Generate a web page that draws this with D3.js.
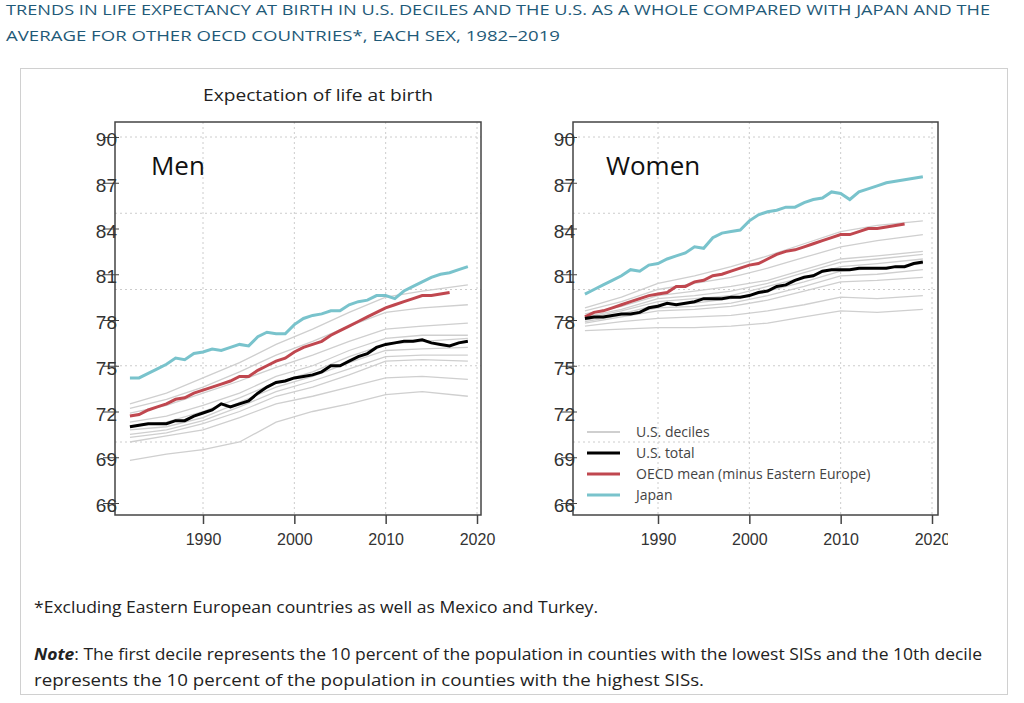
<!DOCTYPE html>
<html><head><meta charset="utf-8">
<script src="https://cdn.jsdelivr.net/npm/d3@7"></script>
<style>body{margin:0;background:#fff;font-family:"Open Sans","Liberation Sans",sans-serif}</style>
</head><body><svg id="c" width="1024" height="703"></svg>
<script>
// annual series 1982..2019
var years = d3.range(1982, 2020);
var oecdYears = d3.range(1982, 2018);
var decileYears = [1982,1986,1990,1994,1998,2002,2006,2010,2014,2019];
var yTicks = [66,69,72,75,78,81,84,87,90];
var yGrid = [70,75,80,85,90];
var xTicks = [1990,2000,2010,2020];

var menJapan = [74.2,74.2,74.5,74.8,75.1,75.5,75.4,75.8,75.9,76.1,76.0,76.2,76.4,76.3,76.9,77.2,77.1,77.1,77.7,78.1,78.3,78.4,78.6,78.6,79.0,79.2,79.3,79.6,79.6,79.4,79.9,80.2,80.5,80.8,81.0,81.1,81.3,81.5];
var menOecd = [71.7,71.8,72.1,72.3,72.5,72.8,72.9,73.2,73.4,73.6,73.8,74.0,74.3,74.3,74.7,75.0,75.3,75.5,75.9,76.2,76.4,76.6,77.0,77.3,77.6,77.9,78.2,78.5,78.8,79.0,79.2,79.4,79.6,79.6,79.7,79.8];
var menUs = [71.0,71.1,71.2,71.2,71.2,71.4,71.4,71.7,71.9,72.1,72.5,72.3,72.5,72.7,73.2,73.6,73.9,74.0,74.2,74.3,74.4,74.6,75.0,75.0,75.3,75.6,75.8,76.2,76.4,76.5,76.6,76.6,76.7,76.5,76.4,76.3,76.5,76.6];
var menDeciles = [
 [68.8,69.2,69.5,70.0,71.3,72.0,72.5,73.1,73.3,73.0],
 [70.0,70.4,70.8,71.6,72.5,73.0,73.6,74.2,74.3,74.1],
 [70.3,70.6,71.2,72.0,73.0,73.6,74.4,75.3,75.4,75.3],
 [70.5,70.8,71.4,72.3,73.3,74.0,74.8,75.6,75.7,75.7],
 [70.8,71.0,71.6,72.6,73.6,74.3,75.2,76.0,76.1,76.2],
 [71.0,71.3,72.0,72.9,73.9,74.6,75.6,76.4,76.6,76.8],
 [71.3,71.7,72.4,73.2,74.3,75.0,76.0,76.8,77.0,77.0],
 [71.9,72.4,73.2,74.0,74.9,75.7,76.6,77.4,77.6,77.8],
 [72.2,72.8,73.6,74.6,75.7,76.6,77.6,78.5,78.8,79.0],
 [72.5,73.2,74.2,75.2,76.4,77.4,78.5,79.5,79.9,80.3]];

var womenJapan = [79.7,80.0,80.3,80.6,80.9,81.3,81.2,81.6,81.7,82.0,82.2,82.4,82.8,82.7,83.4,83.7,83.8,83.9,84.5,84.9,85.1,85.2,85.4,85.4,85.7,85.9,86.0,86.4,86.3,85.9,86.4,86.6,86.8,87.0,87.1,87.2,87.3,87.4];
var womenOecd = [78.2,78.5,78.6,78.8,79.0,79.2,79.4,79.6,79.7,79.8,80.2,80.2,80.5,80.6,80.9,81.0,81.2,81.4,81.6,81.7,82.0,82.3,82.5,82.6,82.8,83.0,83.2,83.4,83.6,83.6,83.8,84.0,84.0,84.1,84.2,84.3];
var womenUs = [78.1,78.2,78.2,78.3,78.4,78.4,78.5,78.8,78.9,79.1,79.0,79.1,79.2,79.4,79.4,79.4,79.5,79.5,79.6,79.8,79.9,80.2,80.3,80.6,80.8,80.9,81.2,81.3,81.3,81.3,81.4,81.4,81.4,81.4,81.5,81.5,81.7,81.8];
var womenDeciles = [
 [77.3,77.4,77.5,77.5,77.6,77.8,78.2,78.6,78.5,78.7],
 [77.6,77.9,78.1,78.2,78.3,78.6,79.0,79.5,79.4,79.6],
 [77.8,78.2,78.6,78.7,78.9,79.3,79.9,80.5,80.6,80.8],
 [77.9,78.3,78.8,78.9,79.1,79.6,80.2,80.9,81.0,81.3],
 [78.0,78.4,79.0,79.1,79.4,79.9,80.5,81.2,81.4,81.7],
 [78.1,78.6,79.2,79.4,79.6,80.2,80.8,81.5,81.7,82.0],
 [78.2,78.7,79.4,79.6,79.9,80.4,81.1,81.8,82.0,82.3],
 [78.4,78.9,79.6,79.9,80.2,80.6,81.3,82.0,82.2,82.5],
 [78.6,79.2,80.0,80.4,80.8,81.4,82.1,82.8,83.2,83.6],
 [78.8,79.5,80.4,80.9,81.5,82.2,83.0,83.8,84.2,84.5]];

var legendLabels = ["U.S. deciles","U.S. total","OECD mean (minus Eastern Europe)","Japan"];
var legendColors = ["#cfcfcf","#000","#c0474f","#79c3cc"];
var legendWidths = [2,3,3,3];

var svg = d3.select("#c");
svg.append("rect").attr("x",20.5).attr("y",68.5).attr("width",987).attr("height",626)
  .attr("fill","none").attr("stroke","#d0d0d0");

function fitText(x, yy, w, size, txt, color) {
  return svg.append("text").attr("x",x).attr("y",yy).attr("textLength",w).attr("lengthAdjust","spacingAndGlyphs")
    .style("font-size",size+"px").attr("fill",color).text(txt);
}
fitText(6,15,984,15,"TRENDS IN LIFE EXPECTANCY AT BIRTH IN U.S. DECILES AND THE U.S. AS A WHOLE COMPARED WITH JAPAN AND THE","#1f5a78");
fitText(6,41,554,15,"AVERAGE FOR OTHER OECD COUNTRIES*, EACH SEX, 1982\u20132019","#1f5a78");
fitText(203,101,230,17,"Expectation of life at birth","#222");

var y = d3.scaleLinear().domain([66,90]).range([503,137]);
svg.append("clipPath").attr("id","cl").append("rect").attr("x",0).attr("y",-20).attr("width",948).attr("height",80);

function panel(left, right, x0, label, japan, oecd, us, deciles, legend) {
  var x = d3.scaleLinear().domain([1990,2020]).range([x0, x0+274]);
  var g = svg.append("g");
  g.selectAll(".hg").data(yGrid).enter().append("line")
    .attr("x1",left).attr("x2",right).attr("y1",d=>y(d)).attr("y2",d=>y(d))
    .attr("stroke","#ccc").attr("stroke-dasharray","2,3");
  g.selectAll(".vg").data(xTicks).enter().append("line")
    .attr("x1",d=>x(d)).attr("x2",d=>x(d)).attr("y1",122).attr("y2",515)
    .attr("stroke","#ccc").attr("stroke-dasharray","2,3");
  g.append("rect").attr("x",left).attr("y",122).attr("width",right-left).attr("height",393)
    .attr("fill","none").attr("stroke","#444").attr("stroke-width",1.5);
  var ya = g.append("g").attr("transform","translate("+left+",0)")
    .call(d3.axisLeft(y).tickValues(yTicks).tickSize(0).tickPadding(0).tickFormat(d3.format("d")));
  ya.select(".domain").remove();
  ya.selectAll("text").style("font-size","19px").attr("fill","#333").attr("x",2).attr("dy","0.45em");
  ya.selectAll("line").attr("stroke","#444").attr("x1",-12).attr("x2",4);
  var xa = g.append("g").attr("transform","translate(0,515)").attr("clip-path","url(#cl)")
    .call(d3.axisBottom(x).tickValues(xTicks).tickSize(9).tickPadding(10).tickFormat(d3.format("d")));
  xa.select(".domain").remove();
  xa.selectAll("line").attr("stroke","#444").attr("stroke-width",1.5);
  xa.selectAll("text").style("font-size","16px").attr("fill","#333");

  var line = d3.line().x(d=>x(d[0])).y(d=>y(d[1]));
  deciles.forEach(function(s){
    g.append("path").attr("d",line(decileYears.map((yr,i)=>[yr,s[i]])))
      .attr("fill","none").attr("stroke","#cfcfcf").attr("stroke-width",1.3);
  });
  g.append("path").attr("d",line(oecdYears.map((yr,i)=>[yr,oecd[i]])))
    .attr("fill","none").attr("stroke","#c0474f").attr("stroke-width",3);
  g.append("path").attr("d",line(years.map((yr,i)=>[yr,japan[i]])))
    .attr("fill","none").attr("stroke","#79c3cc").attr("stroke-width",3);
  g.append("path").attr("d",line(years.map((yr,i)=>[yr,us[i]])))
    .attr("fill","none").attr("stroke","#000").attr("stroke-width",3);
  g.append("text").attr("x",x(1984.3)).attr("y",175).style("font-size","26px").attr("fill","#111").text(label);

  if (legend) {
    legendLabels.forEach(function(t,i){
      var ly = 432 + i*21;
      g.append("line").attr("x1",587).attr("x2",620).attr("y1",ly).attr("y2",ly)
        .attr("stroke",legendColors[i]).attr("stroke-width",legendWidths[i]);
      g.append("text").attr("x",636).attr("y",ly+5).style("font-size","14px").attr("fill","#444").text(t);
    });
  }
}
panel(115, 481, 203, "Men", menJapan, menOecd, menUs, menDeciles, false);
panel(573, 938, 658, "Women", womenJapan, womenOecd, womenUs, womenDeciles, true);

fitText(34,613,564,16,"*Excluding Eastern European countries as well as Mexico and Turkey.","#222");
var note = svg.append("text").style("font-size","16px").attr("fill","#222").attr("textLength",948).attr("lengthAdjust","spacingAndGlyphs");
note.append("tspan").attr("x",34).attr("y",660).style("font-style","italic").style("font-weight","bold").text("Note");
note.append("tspan").text(": The first decile represents the 10 percent of the population in counties with the lowest SISs and the 10th decile");
fitText(34,686,670,16,"represents the 10 percent of the population in counties with the highest SISs.","#222");
</script></body></html>
